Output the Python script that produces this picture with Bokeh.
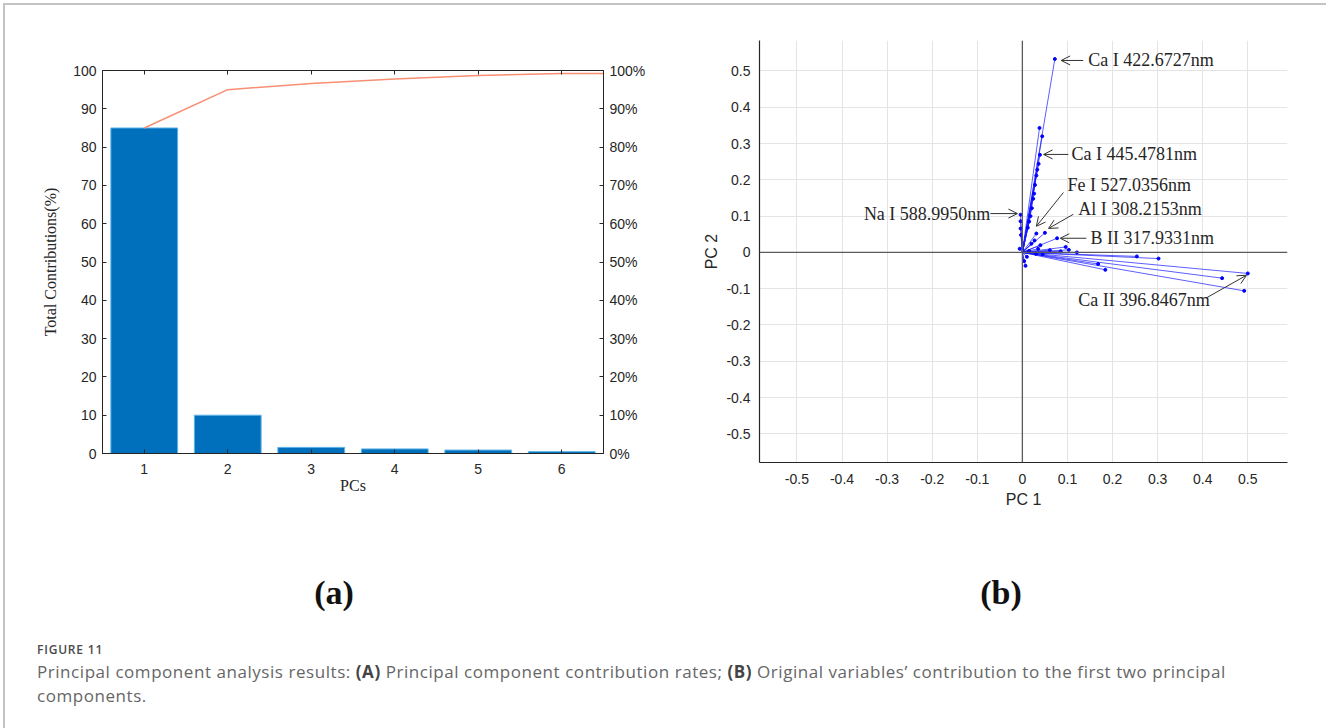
import numpy as np
from bokeh.plotting import figure
from bokeh.models import (Range1d, LinearAxis, FixedTicker, PrintfTickFormatter,
                          Span, Label, Arrow, OpenHead, Div, Spacer)
from bokeh.layouts import row, column
from bokeh.embed import file_html
from bokeh.resources import INLINE

# ---------------- data ----------------
pcs = [1, 2, 3, 4, 5, 6]
contrib = [85.0, 10.0, 1.6, 1.2, 0.9, 0.5]
left_ticks = [0, 10, 20, 30, 40, 50, 60, 70, 80, 90, 100]

pc1 = [0.072, 0.038, 0.044, 0.039, 0.036, 0.033, 0.031, 0.028, 0.026, 0.024,
       0.021, 0.018, 0.015, 0.012, -0.004, -0.004, -0.004, -0.003, 0.031, 0.050,
       0.077, 0.027, 0.020, 0.096, 0.103, 0.121, 0.254, 0.302, 0.500, 0.443,
       0.492, 0.168, 0.184, 0.007, 0.004, 0.035, 0.061, 0.015, -0.006, 0.045,
       0.030, 0.085, 0.010, 0.040]
pc2 = [0.533, 0.343, 0.320, 0.269, 0.244, 0.228, 0.212, 0.186, 0.162, 0.148,
       0.122, 0.100, 0.085, 0.068, 0.104, 0.086, 0.066, 0.048, 0.052, 0.054,
       0.039, 0.033, 0.024, 0.015, 0.007, 0.000, -0.011, -0.017, -0.058, -0.071,
       -0.106, -0.032, -0.048, -0.037, -0.024, 0.010, 0.006, 0.004, 0.010, -0.005,
       -0.004, 0.003, -0.012, 0.020]

bi_ticks = [-0.5, -0.4, -0.3, -0.2, -0.1, 0.0, 0.1, 0.2, 0.3, 0.4, 0.5]
bi_tick_labels = ["-0.5", "-0.4", "-0.3", "-0.2", "-0.1", "0", "0.1", "0.2", "0.3", "0.4", "0.5"]

line_names = ["Ca I 422.6727nm", "Ca I 445.4781nm", "Fe I 527.0356nm",
              "Al I 308.2153nm", "B II 317.9331nm", "Na I 588.9950nm",
              "Ca II 396.8467nm"]

AX = "#262626"
TICK_FONT = "Liberation Sans"
SERIF = "Liberation Serif"

# ---------------- (a) pareto ----------------
pa = figure(width=655, height=476, x_range=Range1d(0.5, 6.5), y_range=Range1d(0, 100),
            output_backend="svg", toolbar_location=None,
            min_border_left=97, min_border_right=57, min_border_top=35, min_border_bottom=58)
pa.vbar(x=pcs, top=contrib, width=0.8, fill_color="#0070BD", line_color="#62b6ea", line_width=1)
cum = list(np.cumsum(contrib))
pa.line(pcs + [pa.x_range.end], cum + [cum[-1]], line_color="#F88E72", line_width=1.5)

pa.xgrid.visible = False
pa.ygrid.visible = False
pa.outline_line_color = AX
pa.outline_line_width = 1

def style_axis(ax, size="14px"):
    ax.axis_line_color = AX
    ax.major_tick_line_color = AX
    ax.major_tick_in = 4
    ax.major_tick_out = 0
    ax.minor_tick_line_color = None
    ax.major_label_text_font = TICK_FONT
    ax.major_label_text_font_size = size
    ax.major_label_text_color = AX

pa.xaxis.ticker = FixedTicker(ticks=pcs)
pa.xaxis.axis_label = "PCs"
pa.yaxis.ticker = FixedTicker(ticks=left_ticks)
pa.yaxis.axis_label = "Total Contributions(%)"
for ax in pa.xaxis + pa.yaxis:
    style_axis(ax)
    ax.axis_label_text_font = SERIF
    ax.axis_label_text_font_size = "16px"
    ax.axis_label_text_font_style = "normal"
    ax.axis_label_text_color = AX
pa.xaxis.major_label_standoff = 10
pa.xaxis.axis_label_standoff = 0
pa.yaxis.major_label_standoff = 6
pa.yaxis.axis_label_standoff = 11

pa.extra_y_ranges = {"pct": Range1d(0, 100)}
right_ax = LinearAxis(y_range_name="pct", ticker=FixedTicker(ticks=left_ticks),
                      formatter=PrintfTickFormatter(format="%d%%"))
style_axis(right_ax)
right_ax.major_label_standoff = 6
pa.add_layout(right_ax, "right")

top_ax = LinearAxis(ticker=FixedTicker(ticks=pcs))
style_axis(top_ax)
top_ax.major_label_text_color = None
top_ax.major_label_text_font_size = "1px"
top_ax.major_label_standoff = 0
pa.add_layout(top_ax, "above")

# ---------------- (b) biplot ----------------
pb = figure(width=666, height=515, x_range=Range1d(-0.583, 0.588), y_range=Range1d(-0.579, 0.584),
            output_backend="svg", toolbar_location=None,
            min_border_left=99, min_border_right=39, min_border_top=35, min_border_bottom=58)
pb.outline_line_color = None
pb.xaxis.ticker = FixedTicker(ticks=bi_ticks)
pb.yaxis.ticker = FixedTicker(ticks=bi_ticks)
overrides = {t: l for t, l in zip(bi_ticks, bi_tick_labels)}
pb.xaxis.major_label_overrides = overrides
pb.yaxis.major_label_overrides = overrides
pb.grid.grid_line_color = "#e4e4e4"
pb.grid.grid_line_width = 1
for ax in pb.xaxis + pb.yaxis:
    style_axis(ax)
    ax.major_tick_in = 0
    ax.axis_line_width = 1.2
    ax.axis_label_text_font = TICK_FONT
    ax.axis_label_text_font_size = "16px"
    ax.axis_label_text_font_style = "normal"
    ax.axis_label_text_color = AX
pb.xaxis.axis_label = "PC 1"
pb.yaxis.axis_label = "PC 2"
pb.xaxis.major_label_standoff = 11
pb.xaxis.axis_label_standoff = 4
pb.yaxis.major_label_standoff = 9
pb.yaxis.axis_label_standoff = 3

pb.add_layout(Span(location=0, dimension="width", line_color="#5a5a5a", line_width=1.3))
pb.add_layout(Span(location=0, dimension="height", line_color="#5a5a5a", line_width=1.3))

pb.segment(x0=[0] * len(pc1), y0=[0] * len(pc2), x1=pc1, y1=pc2,
           line_color="#1a1aff", line_alpha=0.7, line_width=1)
pb.scatter(pc1, pc2, size=3, fill_color="#0000ff", line_color="#0000ff")

# annotation placement (text x, text y, align, arrow tail x, y, arrow head x, y)
placements = [
    (0.146, 0.529, "left", 0.135, 0.529, 0.086, 0.529),
    (0.109, 0.270, "left", 0.102, 0.270, 0.047, 0.270),
    (0.100, 0.187, "left", 0.091, 0.165, 0.031, 0.072),
    (0.124, 0.121, "left", 0.113, 0.105, 0.058, 0.066),
    (0.151, 0.039, "left", 0.142, 0.039, 0.084, 0.039),
    (-0.071, 0.107, "right", -0.071, 0.107, -0.011, 0.107),
    (0.124, -0.132, "left", 0.410, -0.124, 0.497, -0.063),
]
for name, (tx, ty, al, ax0, ay0, ax1, ay1) in zip(line_names, placements):
    pb.add_layout(Arrow(end=OpenHead(size=9, line_color="#333333", line_width=1),
                        x_start=ax0, y_start=ay0, x_end=ax1, y_end=ay1,
                        line_color="#333333", line_width=1))
    pb.add_layout(Label(x=tx, y=ty, text=name, text_align=al, text_baseline="middle",
                        text_font=SERIF, text_font_size="18px", text_color=AX))

# ---------------- labels & caption ----------------
html = """
<div style="position:relative;width:1321px;height:208px;">
  <div style="position:absolute;left:324px;top:68px;transform:translate(-50%,-50%);
       font-family:'Liberation Serif';font-weight:bold;font-size:34px;color:#111;">(a)</div>
  <div style="position:absolute;left:991px;top:68px;transform:translate(-50%,-50%);
       font-family:'Liberation Serif';font-weight:bold;font-size:34px;color:#111;">(b)</div>
  <div style="position:absolute;left:27px;top:119px;font-family:'Open Sans';font-weight:600;
       font-size:12px;line-height:12px;letter-spacing:0.8px;color:#4a4a4a;white-space:nowrap;">FIGURE 11</div>
  <div style="position:absolute;left:27px;top:135px;font-family:'Open Sans';font-size:17px;
       line-height:24px;letter-spacing:0.55px;color:#666666;white-space:nowrap;">Principal component analysis results: <b style="color:#444">(A)</b> Principal component contribution rates; <b style="color:#444">(B)</b> Original variables\u2019 contribution to the first two principal<br>components.</div>
</div>
"""
cap = Div(text=html, width=1321, height=208)

root = column(row(column(Spacer(width=655, height=30), pa), pb), cap,
              styles={"margin-left": "3px", "margin-top": "3px",
                      "border-left": "2px solid #c4c4c4", "border-top": "2px solid #c4c4c4"})

open("out.html", "w").write(file_html(root, INLINE))
